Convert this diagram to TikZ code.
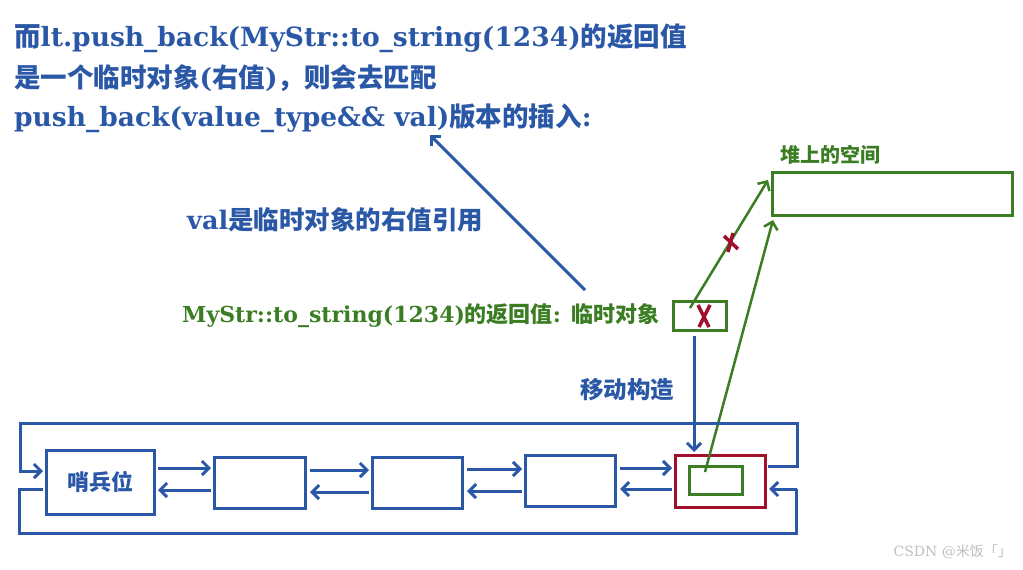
\documentclass[tikz,border=0pt]{standalone}
\usepackage{fontspec}
\setmainfont{DejaVu Serif}
\newfontfamily\cjk{Noto Sans CJK SC}
\newcommand{\zh}[1]{{\cjk #1}}
\usetikzlibrary{arrows.meta}
\definecolor{bl}{HTML}{2A58A6}
\definecolor{gr}{HTML}{3B7D23}
\definecolor{rd}{HTML}{A0102A}
\begin{document}
\begin{tikzpicture}[x=1pt,y=-1pt,
  bx/.style={draw=bl,line width=3pt},
  gbx/.style={draw=gr,line width=3pt},
  ln/.style={bl,line width=3pt},
  ar/.style={bl,line width=3pt,-{Straight Barb[length=7pt,width=14pt]}},
  gar/.style={gr,line width=2.5pt,-{Straight Barb[length=7pt,width=14pt]}},
  tt/.style={anchor=west,inner sep=0pt,font=\bfseries\fontsize{26.5}{30}\selectfont,text=bl}]
\useasboundingbox (0,0) rectangle (1023,570);
\node[tt] (t1) at (14,38) {\zh{而}lt.push\_back(MyStr::to\_string(1234)\zh{的返回值}};
\node[tt] (t2) at (14,78) {\zh{是一个临时对象}(\zh{右值})\zh{，则会去匹配}};
\node[tt] (t3) at (14,118) {push\_back(value\_type\&\& val)\zh{版本的插入}:};
\node[anchor=west,inner sep=0pt,font=\bfseries\fontsize{20}{22}\selectfont,text=gr] (hl) at (780,155) {\zh{堆上的空间}};
\draw[gbx] (772,172) rectangle (1012,215) coordinate (heapbr);
\coordinate (heap1) at (768,180); \coordinate (heap2) at (773,220);
\node[anchor=west,inner sep=0pt,font=\bfseries\fontsize{25.5}{28}\selectfont,text=bl] (vl) at (187,220) {val\zh{是临时对象的右值引用}};
\coordinate (va) at (585,290); \coordinate (vb) at (430,135);
\draw[ar] (va) -- (vb);
\node[anchor=west,inner sep=0pt,font=\bfseries\fontsize{22}{24}\selectfont,text=gr] (tl) at (182,316) {MyStr::to\_string(1234)\zh{的返回值}: \zh{临时对象}};
\node[gbx,minimum width=53pt,minimum height=29pt,inner sep=0pt] (tmp) at (699.5,315.5) {};
\draw[rd,line width=3.5pt] (698,305) -- (709,327) (710,305) -- (699,327);
\coordinate (ts) at (690,308);
\draw[gar] (ts) -- (heap1);
\draw[rd,line width=3.5pt] (724,236) -- (738,249) (733,233) -- (728,252);
\node[anchor=west,inner sep=0pt,font=\bfseries\fontsize{23.5}{26}\selectfont,text=bl] (mv) at (580,390) {\zh{移动构造}};
\coordinate (m1) at (694,336); \coordinate (m2) at (694,452);
\draw[ar] (m1) -- (m2);
% list
\node[bx,minimum width=108pt,minimum height=64pt,inner sep=0pt,text=bl,font=\bfseries\fontsize{22}{24}\selectfont] (n1) at (100,482) {\zh{哨兵位}};
\node[bx,minimum width=91pt,minimum height=51pt] (n2) at (259.5,482.5) {};
\node[bx,minimum width=90pt,minimum height=51pt] (n3) at (417,482.5) {};
\node[bx,minimum width=90pt,minimum height=51pt] (n4) at (570,480.5) {};
\node[draw=rd,line width=3pt,minimum width=90pt,minimum height=52pt] (n5) at (720,481) {};
\node[gbx,minimum width=53pt,minimum height=28pt] (in5) at (715.5,480) {};
\draw[gar] (705,472) -- (heap2);
\foreach \a/\b/\xa/\xb/\yf/\yb in {n1/n2/158/211/468/490, n2/n3/310/369/470/492, n3/n4/467/522/469/491, n4/n5/620/672/468/489}{
  \draw[ar] (\xa,\yf) -- (\xb,\yf);
  \draw[ar] (\xb,\yb) -- (\xa,\yb);
}
\draw[ln] (768,466) -- (797,466) -- (797,423) -- (20,423) -- (20,471);
\draw[ar] (19,471) -- (43,471);
\draw[ln] (43,489) -- (19,489) -- (19,533) -- (796,533) -- (796,489);
\draw[ar] (797,489) -- (769,489);
\node[anchor=east,inner sep=0pt,font=\fontsize{14}{16}\selectfont,text=gray!50] (wm) at (1012,552) {CSDN @\zh{米饭「」}};
\end{tikzpicture}
\end{document}
